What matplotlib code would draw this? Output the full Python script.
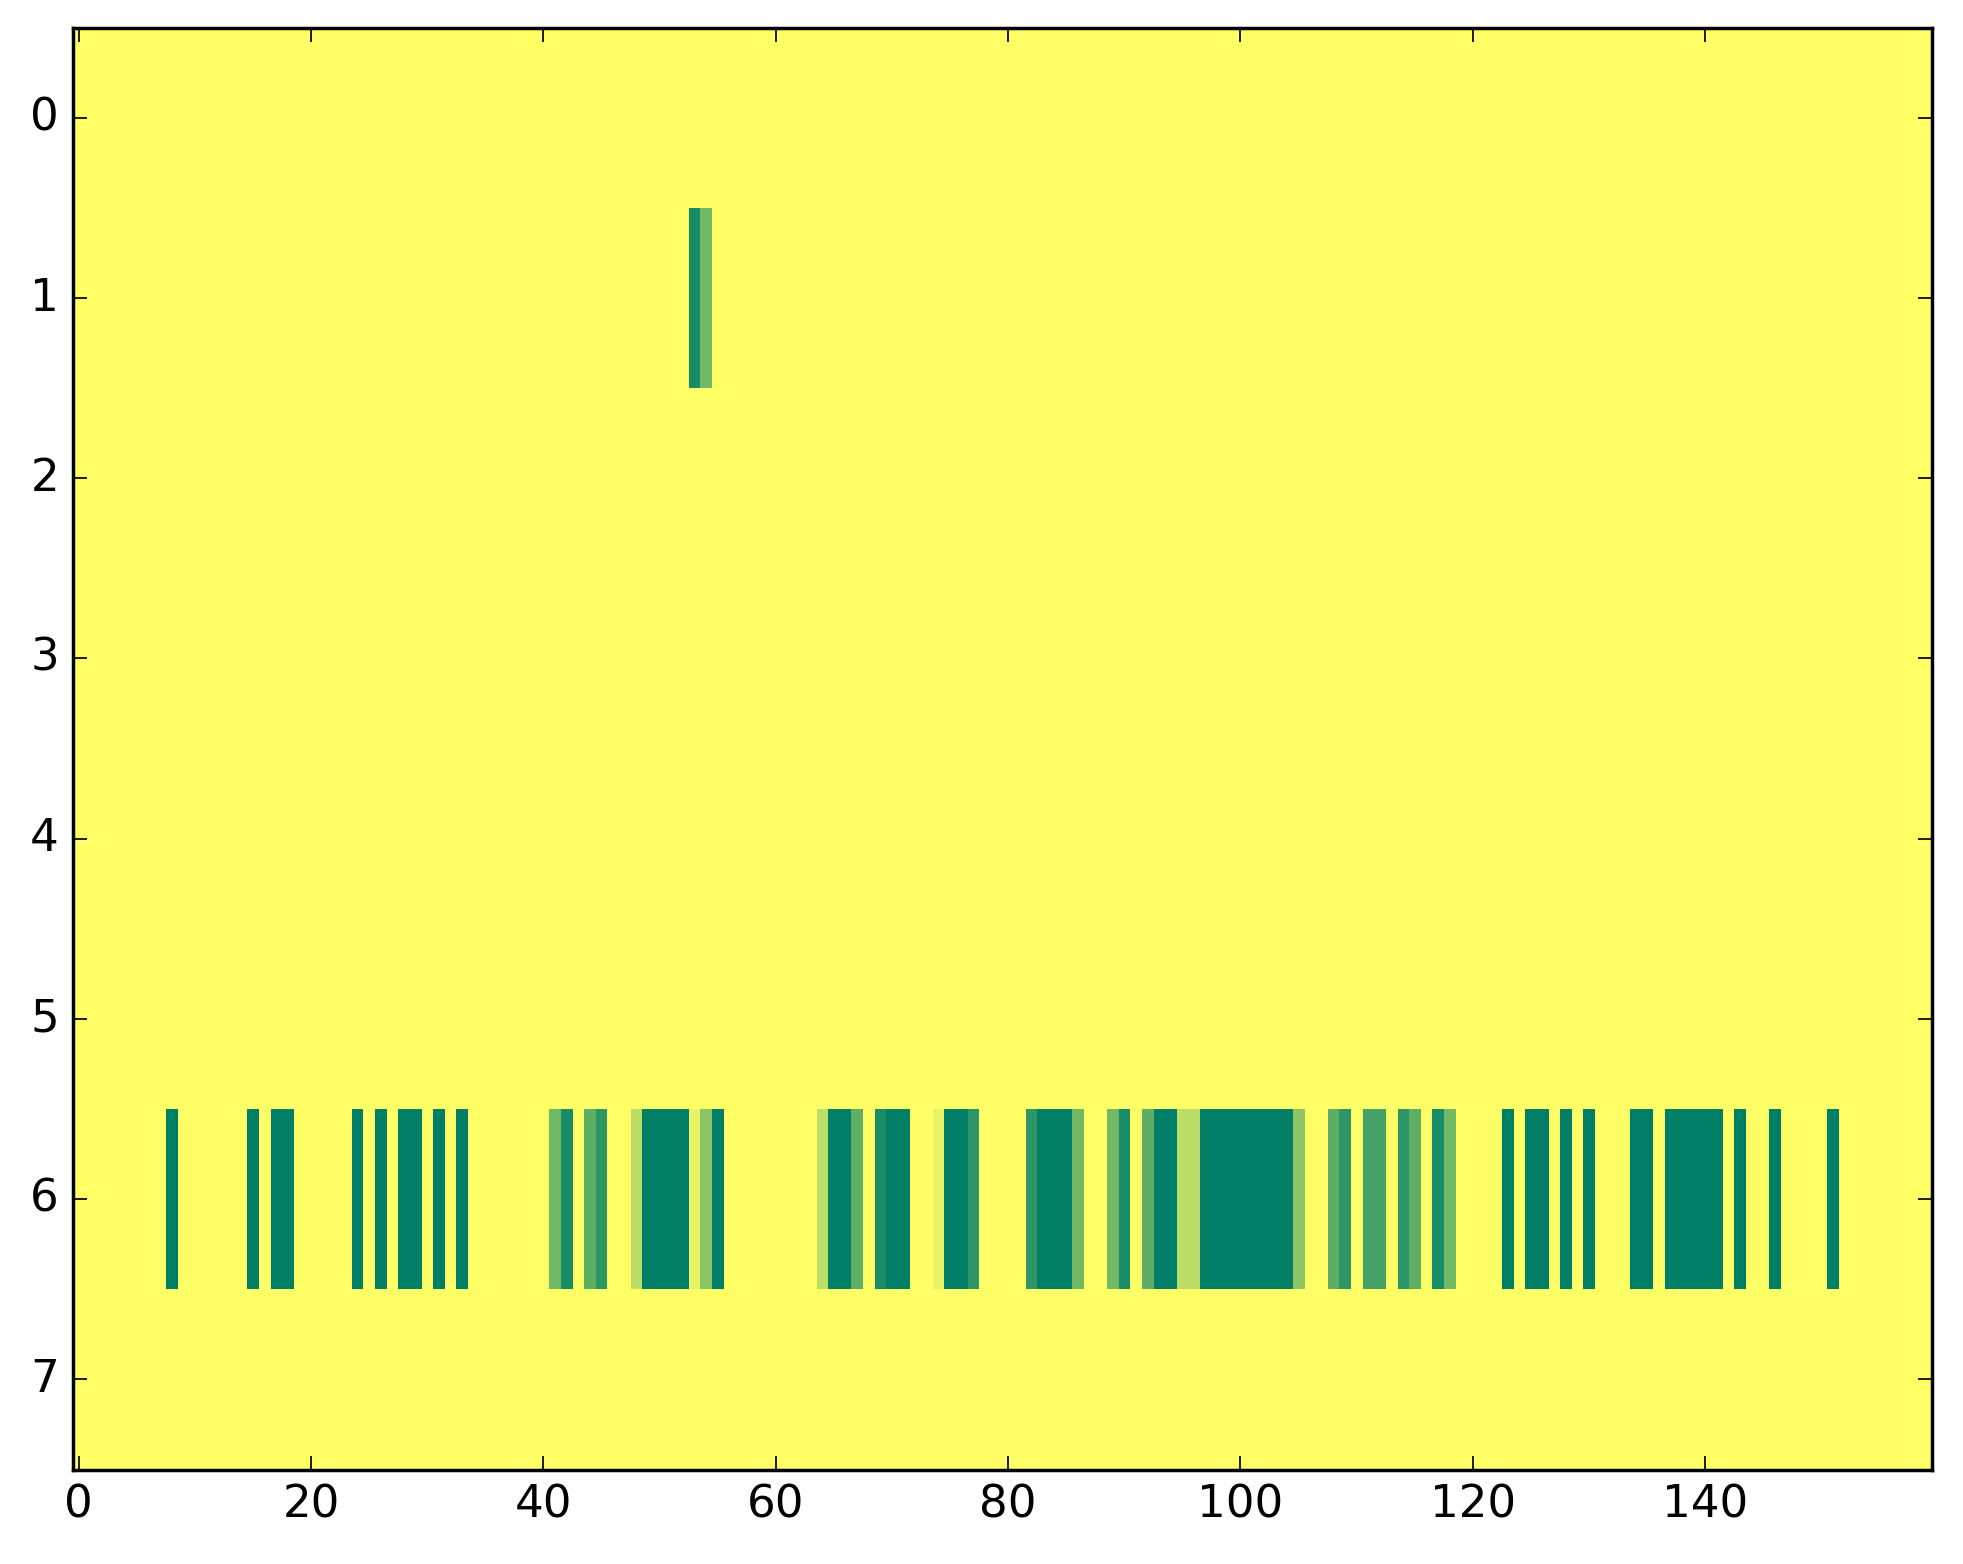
import numpy as np
import matplotlib
matplotlib.use("Agg")
import matplotlib.pyplot as plt

plt.style.use("classic")

n_rows = 8
n_cols = 160

# nonzero cells: column -> value (0..1), all other cells are 0
row1_cells = {53: 0.9, 54: 0.55}
row6_cells = {
    8: 1.0, 15: 1.0, 17: 1.0, 18: 1.0, 24: 1.0, 26: 1.0, 28: 1.0, 29: 1.0,
    31: 1.0, 33: 1.0, 41: 0.55, 42: 0.9, 44: 0.63, 45: 0.82, 48: 0.26,
    49: 1.0, 50: 1.0, 51: 1.0, 52: 1.0, 53: 0.09, 54: 0.45, 55: 1.0,
    64: 0.26, 65: 1.0, 66: 1.0, 67: 0.63, 69: 0.9, 70: 1.0, 71: 1.0,
    74: 0.09, 75: 1.0, 76: 1.0, 77: 0.82, 82: 0.82, 83: 1.0, 84: 1.0,
    85: 1.0, 86: 0.55, 89: 0.55, 90: 0.9, 92: 0.63, 93: 1.0, 94: 1.0,
    95: 0.26, 96: 0.26, 97: 1.0, 98: 1.0, 99: 1.0, 100: 1.0, 101: 1.0,
    102: 1.0, 103: 1.0, 104: 1.0, 105: 0.45, 108: 0.63, 109: 0.82,
    111: 0.73, 112: 0.73, 114: 0.82, 115: 0.63, 117: 0.9, 118: 0.55,
    123: 1.0, 125: 1.0, 126: 1.0, 128: 1.0, 130: 1.0, 134: 1.0, 135: 1.0,
    137: 1.0, 138: 1.0, 139: 1.0, 140: 1.0, 141: 1.0, 143: 1.0, 146: 1.0,
    151: 1.0,
}

data = np.zeros((n_rows, n_cols))
for c, v in row1_cells.items():
    data[1, c] = v
for c, v in row6_cells.items():
    data[6, c] = v

fig = plt.figure(figsize=(1963 / 250, 1564 / 250), dpi=250, facecolor="white")
ax = fig.add_axes([0.0371, 0.0604, 0.9469, 0.9219])
ax.imshow(data, cmap="summer_r", vmin=0, vmax=1, aspect="auto",
          interpolation="nearest")
ax.set_xticks(np.arange(0, 141, 20))
ax.set_yticks(np.arange(0, 8, 1))
ax.tick_params(labelsize=13)
fig.savefig("out.png", dpi=250, facecolor="white")
